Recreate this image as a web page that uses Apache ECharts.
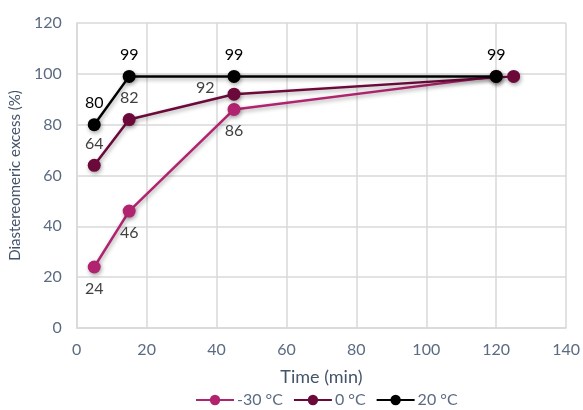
<!DOCTYPE html>
<html><head><meta charset="utf-8">
<script src="https://cdn.jsdelivr.net/npm/echarts@6/dist/echarts.min.js"></script>
<style>html,body{margin:0;padding:0;background:#fff}#c{width:583px;height:410px}</style>
</head><body><div id="c"></div>
<script>
const seriesNames = ['-30 °C', '0 °C', '20 °C'];
const timeM30 = [5, 15, 45, 120];
const valuesM30 = [24, 46, 86, 99];
const time0 = [5, 15, 45, 125];
const values0 = [64, 82, 92, 99];
const time20 = [5, 15, 45, 120];
const values20 = [80, 99, 99, 99];
const xTicks = [0, 20, 40, 60, 80, 100, 120, 140];
const yTicks = [0, 20, 40, 60, 80, 100, 120];

const colors = ['#B1236F', '#6B0A3A', '#000000'];
const font = 'Lato, "Open Sans", sans-serif';

function build(times, vals, labelCfg) {
  return times.map((t, i) => {
    const item = { value: [t, vals[i]] };
    item.label = labelCfg[i];
    return item;
  });
}
const lbl = (show, position, offset) => ({ show, position, offset: offset || [0, 0] });

const chart = echarts.init(document.getElementById('c'));
const mkSeries = (name, data, color, z, labelColor) => ({
  name, type: 'line', data, z,
  symbol: 'circle', symbolSize: 13,
  lineStyle: { width: 2.5, color, shadowBlur: 4, shadowColor: 'rgba(0,0,0,0.35)', shadowOffsetX: 1, shadowOffsetY: 2 },
  itemStyle: { color, shadowBlur: 4, shadowColor: 'rgba(0,0,0,0.35)', shadowOffsetX: 1, shadowOffsetY: 2 },
  label: { fontFamily: font, fontSize: 16, color: labelColor, distance: 7 },
  emphasis: { disabled: true }
});

chart.setOption({
  animation: false,
  grid: { left: 76, right: 13, top: 23, bottom: 82, containLabel: false },
  xAxis: {
    type: 'value', min: 0, max: 140, interval: 20,
    name: 'Time (min)', nameLocation: 'middle', nameGap: 40,
    nameTextStyle: { fontFamily: font, fontSize: 18, color: '#44546A' },
    axisLine: { show: true, lineStyle: { color: '#D9D9D9', width: 1.5 } },
    axisTick: { show: false },
    axisLabel: { fontFamily: font, fontSize: 16, color: '#5B6B82', margin: 14,
      formatter: v => xTicks.includes(v) ? String(v) : '' },
    splitLine: { show: true, lineStyle: { color: '#D9D9D9', width: 1.5 } }
  },
  yAxis: {
    type: 'value', min: 0, max: 120, interval: 20,
    name: 'Diastereomeric excess (%)', nameLocation: 'middle', nameGap: 48,
    nameTextStyle: { fontFamily: font, fontSize: 15, color: '#44546A' },
    axisLine: { show: true, lineStyle: { color: '#D9D9D9', width: 1.5 } },
    axisTick: { show: false },
    axisLabel: { fontFamily: font, fontSize: 16, color: '#5B6B82', margin: 15,
      formatter: v => yTicks.includes(v) ? String(v) : '' },
    splitLine: { show: true, lineStyle: { color: '#D9D9D9', width: 1.5 } }
  },
  legend: {
    top: 387, left: 190, itemWidth: 38, itemHeight: 13, itemGap: 10,
    textStyle: { fontFamily: font, fontSize: 16, color: '#5B6B82', padding: [0, 0, 0, -2] },
    data: seriesNames
  },
  series: [
    mkSeries(seriesNames[0], build(timeM30, valuesM30,
      [lbl(true, 'bottom'), lbl(true, 'bottom'), lbl(true, 'bottom'), lbl(false, 'bottom')]), colors[0], 2, '#404040'),
    mkSeries(seriesNames[1], build(time0, values0,
      [lbl(true, 'top'), lbl(true, 'top'), lbl(true, 'left', [-6, -6]), lbl(false, 'top')]), colors[1], 3, '#404040'),
    mkSeries(seriesNames[2], build(time20, values20,
      [lbl(true, 'top'), lbl(true, 'top'), lbl(true, 'top'), lbl(true, 'top')]), colors[2], 4, '#000000')
  ]
});
</script></body></html>
